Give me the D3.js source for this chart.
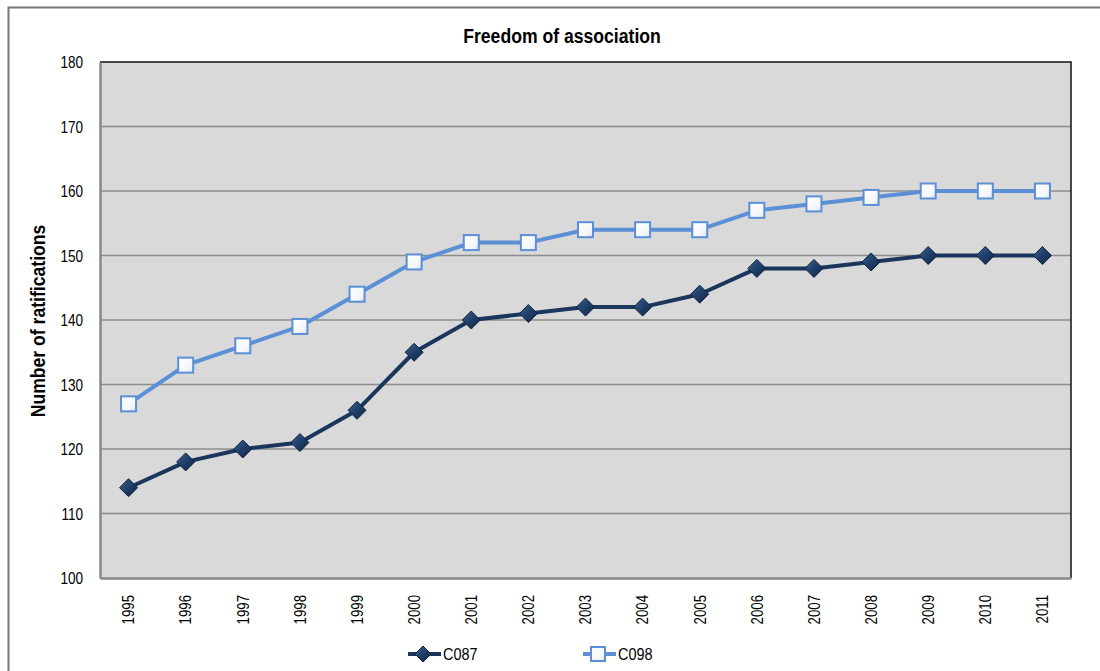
<!DOCTYPE html>
<html><head><meta charset="utf-8">
<script src="https://cdn.jsdelivr.net/npm/d3@7"></script>
<style>
body{margin:0;background:#fff;}
svg{display:block;}
text{font-family:"Liberation Sans Narrow","Arial Narrow","Liberation Sans",Arial,sans-serif;fill:#000;}
</style></head>
<body>
<svg id="chart" width="1100" height="671"></svg>
<script>
const years = ["1995","1996","1997","1998","1999","2000","2001","2002","2003","2004","2005","2006","2007","2008","2009","2010","2011"];
const c087 = [114,118,120,121,126,135,140,141,142,142,144,148,148,149,150,150,150];
const c098 = [127,133,136,139,144,149,152,152,154,154,154,157,158,159,160,160,160];
const yTicks = [100,110,120,130,140,150,160,170,180];
const seriesNames = ["C087","C098"];
const title = "Freedom of association";
const yLabel = "Number of ratifications";

const svg = d3.select("#chart");
const m = {left:100, top:62, right:1071, bottom:578};

function condense(sel, f){
  sel.each(function(){
    const w = this.getComputedTextLength();
    d3.select(this).attr("textLength", w*f).attr("lengthAdjust","spacingAndGlyphs");
  });
}

// outer border
svg.append("rect").attr("x",8.5).attr("y",7.5).attr("width",1100).attr("height",700)
  .attr("fill","#fff").attr("stroke","#777").attr("stroke-width",2);

const defs = svg.append("defs");
const gd = defs.append("linearGradient").attr("id","diaGrad").attr("x1","0").attr("y1","0").attr("x2","1").attr("y2","1");
gd.append("stop").attr("offset","0%").attr("stop-color","#3d6090");
gd.append("stop").attr("offset","50%").attr("stop-color","#1f3f69");
gd.append("stop").attr("offset","100%").attr("stop-color","#102542");
const gs = defs.append("linearGradient").attr("id","sqGrad").attr("x1","0").attr("y1","0").attr("x2","1").attr("y2","1");
gs.append("stop").attr("offset","0%").attr("stop-color","#ffffff");
gs.append("stop").attr("offset","70%").attr("stop-color","#f4f6fa");
gs.append("stop").attr("offset","100%").attr("stop-color","#d6deea");

const x = d3.scaleBand().domain(years).range([m.left, m.right]);
const y = d3.scaleLinear().domain([100,180]).range([m.bottom, m.top]);
const cx = d => x(d) + x.bandwidth()/2;

// plot background
svg.append("rect").attr("x",m.left).attr("y",m.top).attr("width",m.right-m.left).attr("height",m.bottom-m.top)
  .attr("fill","#d9d9d9");

// gridlines
svg.append("g").selectAll("line").data(yTicks.filter(t=>t>100 && t<180)).join("line")
  .attr("x1",m.left).attr("x2",m.right).attr("y1",d=>y(d)).attr("y2",d=>y(d))
  .attr("stroke","#8c8c8c").attr("stroke-width",1.3);

// top & right black border
svg.append("path").attr("d",`M${m.left},${m.top}H${m.right}V${m.bottom}`)
  .attr("fill","none").attr("stroke","#111").attr("stroke-width",1.5);

// y axis
const yAxis = d3.axisLeft(y).tickValues(yTicks).tickSize(0).tickPadding(12);
const gy = svg.append("g").attr("transform",`translate(${m.left},0)`).call(yAxis);
gy.select(".domain").attr("stroke","#888").attr("stroke-width",2.5);
gy.selectAll("text").attr("font-size",16.5).attr("dy","0.35em").attr("x",-17);
condense(gy.selectAll("text"), 0.82);

// x axis
const xAxis = d3.axisBottom(x).tickSize(0).tickPadding(0);
const gx = svg.append("g").attr("transform",`translate(0,${m.bottom})`).call(xAxis);
gx.select(".domain").attr("stroke","#888").attr("stroke-width",2.5);
gx.selectAll("text").attr("font-size",16.5)
  .attr("transform","rotate(-90)").attr("text-anchor","end")
  .attr("x",-17).attr("y",0).attr("dy","0.35em");
condense(gx.selectAll("text"), 0.8);

// title
const t1 = svg.append("text").attr("x",562).attr("y",43).attr("text-anchor","middle")
  .attr("font-size",20).attr("font-weight","bold").text(title);
condense(t1, 0.88);
// y label
const t2 = svg.append("text").attr("transform","translate(45,321) rotate(-90)").attr("text-anchor","middle")
  .attr("font-size",20).attr("font-weight","bold").text(yLabel);
condense(t2, 0.88);

const line = d3.line().x((d,i)=>cx(years[i])).y(d=>y(d));
const colors = ["#1b365d","#5b8fd6"];
const data = [c087, c098];

const diamond = (g, px, py, s) => {
  g.append("path").attr("d",`M${px},${py-s}L${px+s},${py}L${px},${py+s}L${px-s},${py}Z`)
    .attr("fill","url(#diaGrad)").attr("stroke","#0f2340").attr("stroke-width",1);
};
const square = (g, px, py, s) => {
  g.append("rect").attr("x",px-s).attr("y",py-s).attr("width",2*s).attr("height",2*s)
    .attr("fill","url(#sqGrad)").attr("stroke","#5b8fd6").attr("stroke-width",2);
};

data.forEach((vals, k) => {
  svg.append("path").datum(vals).attr("d",line).attr("fill","none")
    .attr("stroke",colors[k]).attr("stroke-width",4).attr("stroke-linejoin","round");
  const g = svg.append("g");
  vals.forEach((v,i)=>{
    if(k===0) diamond(g, cx(years[i]), y(v), 9);
    else square(g, cx(years[i]), y(v), 7.5);
  });
});

// legend
const leg = svg.append("g");
const ly = 654;
[[408, 0],[583, 1]].forEach(([lx,k])=>{
  leg.append("line").attr("x1",lx).attr("x2",lx+33).attr("y1",ly).attr("y2",ly)
    .attr("stroke",colors[k]).attr("stroke-width",4);
  if(k===0) diamond(leg, lx+15, ly, 8); else square(leg, lx+15, ly, 7);
  const lt = leg.append("text").attr("x",lx+35).attr("y",ly).attr("dy","0.35em").attr("font-size",17).text(seriesNames[k]);
  condense(lt, 0.85);
});
</script>
</body></html>
